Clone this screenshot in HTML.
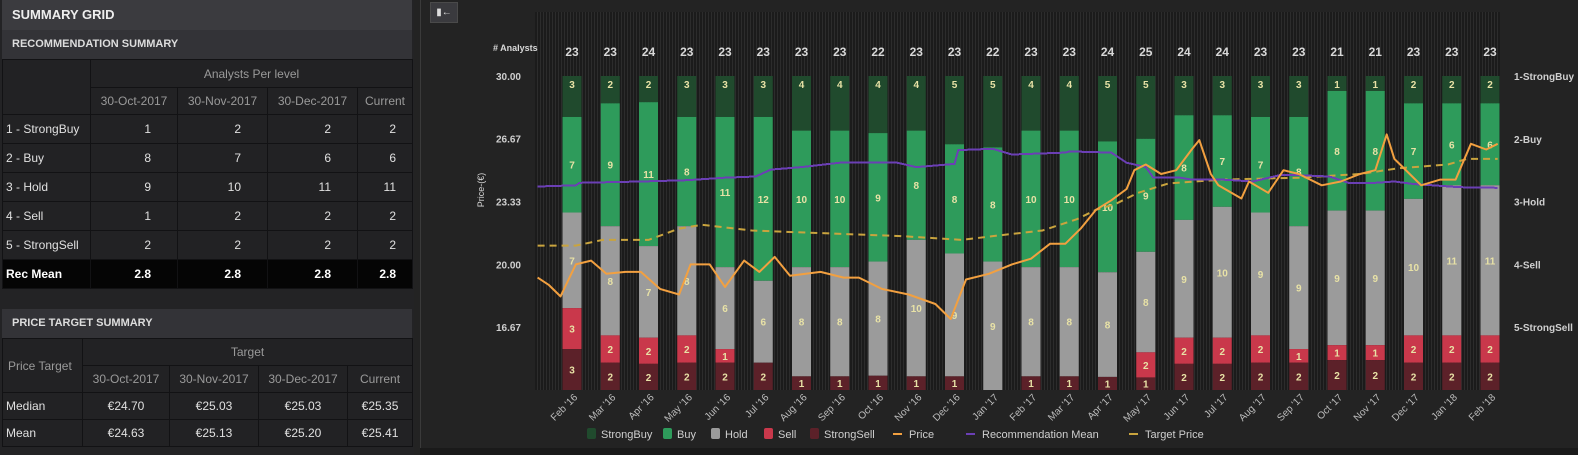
<!DOCTYPE html>
<html><head><meta charset="utf-8">
<style>
*{box-sizing:border-box;margin:0;padding:0}
body{width:1578px;height:455px;background:#232323;font-family:"Liberation Sans",sans-serif;position:relative;overflow:hidden;color:#ddd}
#left{position:absolute;left:0;top:0;width:414px;height:455px;background:#232325}
.title{position:absolute;left:2px;top:0;width:410px;height:30px;background:#3b3b3f;color:#eee;font-weight:bold;font-size:13px;line-height:30px;padding-left:10px}
.sub{position:absolute;left:2px;width:410px;height:29px;background:#333337;color:#ddd;font-weight:bold;font-size:11px;line-height:29px;padding-left:10px}
table{position:absolute;left:2px;width:410px;border-collapse:collapse;font-size:12px;color:#e0e0e0;table-layout:fixed}
td,th{border:1px solid #121214;background:#222224;font-weight:normal;padding:0 3px;white-space:nowrap;overflow:hidden}
th{color:#9a9a9a;text-align:center}
td.n{text-align:right;padding-right:26px}
td.c{text-align:right;padding-right:16px}
tr.rm td{background:#050505;font-weight:bold;color:#fff}
#divider{position:absolute;left:420px;top:0;width:1px;height:455px;background:#3a3a3a}
#btn{position:absolute;left:430px;top:2px;width:28px;height:21px;background:#3a3a3e;border:1px solid #4a4a4a;color:#ddd;font-size:10px;text-align:center;line-height:19px}
svg{position:absolute;left:0;top:0}
</style></head><body>
<div id="left">
<div class="title">SUMMARY GRID</div>
<div class="sub" style="top:30px">RECOMMENDATION SUMMARY</div>
<table style="top:59px">
<colgroup><col style="width:88px"><col style="width:87px"><col style="width:90px"><col style="width:90px"><col style="width:55px"></colgroup>
<tr style="height:28px"><th rowspan="2"></th><th colspan="4">Analysts Per level</th></tr>
<tr style="height:27px"><th>30-Oct-2017</th><th>30-Nov-2017</th><th>30-Dec-2017</th><th>Current</th></tr>
<tr style="height:29px"><td>1 - StrongBuy</td><td class="n">1</td><td class="n">2</td><td class="n">2</td><td class="c">2</td></tr>
<tr style="height:29px"><td>2 - Buy</td><td class="n">8</td><td class="n">7</td><td class="n">6</td><td class="c">6</td></tr>
<tr style="height:29px"><td>3 - Hold</td><td class="n">9</td><td class="n">10</td><td class="n">11</td><td class="c">11</td></tr>
<tr style="height:29px"><td>4 - Sell</td><td class="n">1</td><td class="n">2</td><td class="n">2</td><td class="c">2</td></tr>
<tr style="height:29px"><td>5 - StrongSell</td><td class="n">2</td><td class="n">2</td><td class="n">2</td><td class="c">2</td></tr>
<tr class="rm" style="height:29px"><td>Rec Mean</td><td class="n">2.8</td><td class="n">2.8</td><td class="n">2.8</td><td class="c">2.8</td></tr>
</table>
<div class="sub" style="top:309px">PRICE TARGET SUMMARY</div>
<table style="top:338px">
<colgroup><col style="width:80px"><col style="width:87px"><col style="width:89px"><col style="width:89px"><col style="width:65px"></colgroup>
<tr style="height:27px"><th rowspan="2" style="text-align:left;padding-left:5px">Price Target</th><th colspan="4">Target</th></tr>
<tr style="height:27px"><th>30-Oct-2017</th><th>30-Nov-2017</th><th>30-Dec-2017</th><th>Current</th></tr>
<tr style="height:27px"><td>Median</td><td style="text-align:center">€24.70</td><td style="text-align:center">€25.03</td><td style="text-align:center">€25.03</td><td style="text-align:center">€25.35</td></tr>
<tr style="height:27px"><td>Mean</td><td style="text-align:center">€24.63</td><td style="text-align:center">€25.13</td><td style="text-align:center">€25.20</td><td style="text-align:center">€25.41</td></tr>
</table>
</div>
<div id="divider"></div>
<div id="btn">▮←</div>

<svg id="chart" width="1578" height="455">
<defs>
<pattern id="stripes" width="3" height="10" patternUnits="userSpaceOnUse"><rect width="3" height="10" fill="#1b1b1b"/><rect width="1" height="10" fill="#2c2c2c"/></pattern>
</defs>
<rect x="470" y="0" width="1108" height="455" fill="#232323"/>
<rect x="535" y="12" width="965" height="378" fill="url(#stripes)"/>
<rect x="420" y="448" width="1158" height="7" fill="#1a1a1a"/>
<g id="bars"></g>
<g id="lines"></g>
<g id="axes"></g>
</svg>

<script>
const months=["Feb '16","Mar '16","Apr '16","May '16","Jun '16","Jul '16","Aug '16","Sep '16","Oct '16","Nov '16","Dec '16","Jan '17","Feb '17","Mar '17","Apr '17","May '17","Jun '17","Jul '17","Aug '17","Sep '17","Oct '17","Nov '17","Dec '17","Jan '18","Feb '18"];
const strongBuy=[3,2,2,3,3,3,4,4,4,4,5,5,4,4,5,5,3,3,3,3,1,1,2,2,2];
const buy=[7,9,11,8,11,12,10,10,9,8,8,8,10,10,10,9,8,7,7,8,8,8,7,6,6];
const hold=[7,8,7,8,6,6,8,8,8,10,9,9,8,8,8,8,9,10,9,9,9,9,10,11,11];
const sell=[3,2,2,2,1,0,0,0,0,0,0,0,0,0,0,2,2,2,2,1,1,1,2,2,2];
const strongSell=[3,2,2,2,2,2,1,1,1,1,1,0,1,1,1,1,2,2,2,2,2,2,2,2,2];
const priceTicks=[30.00,26.67,23.33,20.00,16.67];
const recTicks=["1-StrongBuy","2-Buy","3-Hold","4-Sell","5-StrongSell"];
const priceT=[-0.9,-0.6,-0.3,0.1,0.5,0.9,1.4,1.8,2.3,2.8,3.1,3.6,4.0,4.5,4.9,5.3,5.7,6.5,7.1,7.5,8.1,8.8,9.5,9.9,10.3,10.9,11.5,12.0,12.5,12.9,13.3,13.7,14.1,14.5,14.7,15.0,15.4,15.8,16.2,16.4,16.7,16.9,17.5,17.7,18.2,18.6,19.0,19.6,20.1,20.6,21.0,21.3,21.5,21.9,22.2,22.7,23.1,23.5,23.9,24.2];
const priceV=[19.3,18.9,18.3,20.0,20.2,19.5,19.6,19.6,18.7,18.4,20.0,20.0,18.8,20.2,19.6,20.4,19.4,19.6,19.3,19.3,18.7,18.4,17.9,17.1,19.2,19.5,20.0,20.3,21.1,21.1,21.9,22.9,23.4,24.0,25.0,25.3,24.8,25.0,26.1,26.6,24.8,24.2,23.5,24.4,23.8,25.0,24.8,24.2,24.4,24.8,25.0,26.9,25.6,24.8,24.2,24.5,24.5,26.4,26.1,26.4];
const recT=[-0.9,0.1,0.2,1.8,3.0,4.0,4.8,5.2,6.0,7.0,8.5,9.0,10.0,10.1,11.0,11.5,12.9,13.0,14.1,14.5,15.0,15.2,15.9,16.2,17.0,17.8,18.5,19.0,19.8,20.3,21.0,21.5,22.0,22.5,23.2,24.2];
const recV=[2.76,2.74,2.70,2.68,2.66,2.62,2.60,2.49,2.45,2.38,2.38,2.45,2.40,2.18,2.16,2.25,2.22,2.20,2.22,2.38,2.45,2.62,2.62,2.65,2.65,2.68,2.58,2.58,2.60,2.70,2.70,2.68,2.72,2.74,2.77,2.78];
const targetT=[-0.9,0.1,0.8,2.0,2.8,3.4,4.7,6.0,8.6,10.2,11.0,12.3,13.2,13.7,14.2,14.8,15.6,17.0,19.0,20.6,21.6,22.9,23.4,24.2];
const targetV=[21.0,21.0,21.3,21.3,21.9,22.1,21.8,21.7,21.5,21.3,21.5,21.8,22.4,22.9,23.2,23.8,24.3,24.5,24.6,24.8,25.1,25.3,25.6,25.6];

const NS="http://www.w3.org/2000/svg";
function mk(tag,attrs,parent,txt){const e=document.createElementNS(NS,tag);for(const k in attrs)e.setAttribute(k,attrs[k]);if(txt!==undefined)e.textContent=txt;parent.appendChild(e);return e;}
const X0=572,DX=38.25,TOP=76,BOT=390;
function xPos(t){return X0+t*DX;}
function yPrice(p){return TOP+(30-p)*(BOT-TOP)/(30-13.333);}
function yRec(r){return TOP+(r-1)*(BOT-TOP)/5;}
const gB=document.getElementById('bars'),gL=document.getElementById('lines'),gA=document.getElementById('axes');
const segColors=["#204a2d","#2e9b5b","#9b9b9b","#c9384b","#5c2129"];
const segNames=["strongbuy","buy","hold","sell","strongsell"];
const series=[strongBuy,buy,hold,sell,strongSell];
const BW=19;
months.forEach((m,i)=>{
  const tot=series.reduce((a,s)=>a+s[i],0);
  let y=TOP;const cx=xPos(i);
  series.forEach((s,k)=>{
    const v=s[i];if(!v)return;
    const h=v/tot*(BOT-TOP);
    const r=mk('rect',{x:cx-BW/2,y:y,width:BW,height:h,fill:segColors[k]},gB);
    
    
    let ly=(k==0)?y+12:y+h/2+4;
    const t=mk('text',{x:cx,y:ly,'text-anchor':'middle','font-size':10,'font-weight':'bold',fill:'#e8e2a6'},gB,v);
    
    
    y+=h;
  });
  const c=mk('text',{x:cx,y:56,'text-anchor':'middle','font-size':12,'font-weight':'bold',fill:'#d8d8d8'},gA,tot);
  
  
  const xl=mk('text',{x:0,y:0,'text-anchor':'end','font-size':10,fill:'#bdbdbd',transform:`translate(${cx+6},${398}) rotate(-45)`},gA,m);
  
  
});
function path(T,V,yf,attrs,name){
  const d=T.map((t,i)=>(i?'L':'M')+xPos(t).toFixed(1)+','+yf(V[i]).toFixed(1)).join(' ');
  const p=mk('path',Object.assign({d:d,fill:'none'},attrs),gL);
  
  
}
path(targetT,targetV,yPrice,{stroke:'#c9a43e','stroke-width':2,'stroke-dasharray':'7,5'},'target-price-line');
path(recT,recV,yRec,{stroke:'#6b3fb5','stroke-width':2,'shape-rendering':'crispEdges'},'recommendation-mean-line');
path(priceT,priceV,yPrice,{stroke:'#f2a040','stroke-width':2,'stroke-linejoin':'round'},'price-line');
priceTicks.forEach(p=>{
  const t=mk('text',{x:521,y:yPrice(p)+4,'text-anchor':'end','font-size':10,'font-weight':'bold',fill:'#cfcfcf'},gA,p.toFixed(2));
  
  
});
recTicks.forEach((r,i)=>{
  const t=mk('text',{x:1514,y:yRec(i+1)+4,'font-size':10,'font-weight':'bold',fill:'#cfcfcf'},gA,r);
  
  
});
let t1=mk('text',{x:493,y:51,'font-size':9,'font-weight':'bold',fill:'#d8d8d8'},gA,'# Analysts');


let t2=mk('text',{x:0,y:0,'text-anchor':'middle','font-size':9,fill:'#d8d8d8',transform:'translate(484,190) rotate(-90)'},gA,'Price-(€)');


const legend=[["StrongBuy",587,"sq","#204a2d"],["Buy",663,"sq","#2e9b5b"],["Hold",711,"sq","#9b9b9b"],["Sell",764,"sq","#c9384b"],["StrongSell",810,"sq","#5c2129"],["Price",893,"ln","#f2a040"],["Recommendation Mean",966,"ln","#6b3fb5"],["Target Price",1129,"ln","#c9a43e"]];
legend.forEach(l=>{
  const g=mk('g',{},gA);
  
  
  if(l[2]=="sq") mk('rect',{x:l[1],y:428,width:9,height:11,rx:2,fill:l[3]},g);
  else mk('rect',{x:l[1],y:433,width:9,height:2,fill:l[3]},g);
  mk('text',{x:l[1]+(l[2]=="sq"?14:16),y:438,'font-size':11,fill:'#cfcfcf'},g,l[0]);
});
</script>
</body></html>
